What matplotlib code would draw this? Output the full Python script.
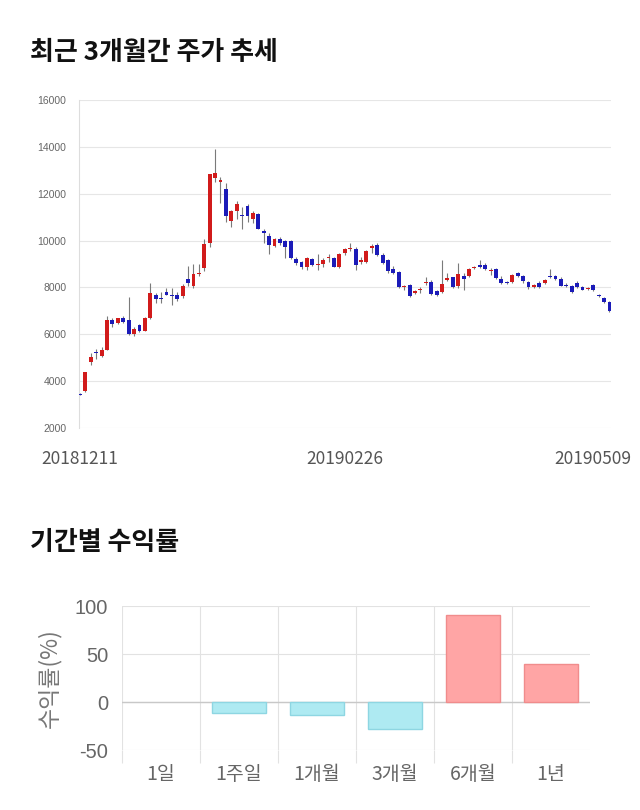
import numpy as np
import matplotlib.pyplot as plt
from matplotlib.transforms import ScaledTranslation

plt.rcParams['font.family'] = ['Noto Sans CJK KR', 'DejaVu Sans']
plt.rcParams['axes.unicode_minus'] = False

# daily candles, 2018-12-11 .. 2019-05-09
opens = [3470, 3560, 4810, 5240, 5060, 5330, 6610, 6480, 6700, 6600,
         6010, 6380, 6160, 6680, 7660, 7520, 7800, 7650, 7660, 7620,
         8370, 8040, 8580, 8830, 9900, 12680, 12520, 12220, 10840, 11250,
         11080, 11480, 10940, 11140, 10410, 10210, 9750, 10070, 10000, 10000,
         9230, 9080, 8860, 9210, 8950, 8980, 9250, 9270, 8880, 9450,
         9640, 9660, 9100, 9100, 9690, 9830, 9400, 9150, 8790, 8650,
         8010, 8100, 7760, 7900, 8180, 8250, 7840, 7790, 8320, 8440,
         8040, 8500, 8480, 8830, 8970, 8970, 8720, 8780, 8370, 8230,
         8230, 8610, 8470, 8230, 8010, 8210, 8190, 8500, 8470, 8370,
         8110, 8040, 8190, 8030, 7940, 8090, 7660, 7530, 7390]
highs = [3500, 4400, 5180, 5390, 5450, 6760, 6680, 6700, 6760, 7600,
         6300, 6420, 6720, 8180, 7760, 7800, 7980, 7960, 7820, 8140,
         8900, 9010, 9010, 10070, 12850, 13910, 12700, 12450, 11300, 11680,
         11420, 11540, 11280, 11180, 10480, 10340, 10120, 10150, 10030, 10040,
         9280, 9120, 9300, 9260, 9440, 9250, 9420, 9290, 9460, 9680,
         9880, 9740, 9320, 9600, 9850, 9880, 9460, 9200, 8900, 8680,
         8110, 8140, 7870, 8010, 8440, 8300, 7900, 9180, 8610, 8460,
         9030, 8610, 8850, 8930, 9150, 9040, 8830, 8830, 8500, 8280,
         8570, 8660, 8510, 8260, 8130, 8260, 8350, 8780, 8540, 8430,
         8190, 8090, 8260, 8070, 8000, 8130, 7720, 7590, 7430]
lows = [3400, 3540, 4680, 4960, 5040, 5320, 6320, 6450, 6480, 5980,
        5940, 6100, 6120, 6650, 7350, 7350, 7660, 7260, 7440, 7550,
        8040, 7970, 8470, 8720, 9720, 12520, 11600, 10790, 10600, 10900,
        10510, 10780, 10770, 10480, 9900, 9420, 9710, 9830, 9260, 9220,
        8960, 8800, 8750, 8900, 8760, 8890, 9080, 8860, 8850, 9400,
        9550, 8750, 9000, 9050, 9470, 9340, 9020, 8600, 8580, 7970,
        7900, 7580, 7730, 7780, 8120, 7690, 7650, 7750, 8260, 7970,
        7970, 7900, 8430, 8780, 8840, 8750, 8530, 8360, 8150, 8140,
        8200, 8440, 8210, 7930, 7990, 7970, 8140, 8400, 8300, 8040,
        8010, 7760, 7970, 7870, 7900, 7830, 7590, 7320, 6950]
closes = [3420, 4370, 5040, 5180, 5350, 6620, 6460, 6680, 6530, 6010,
          6240, 6160, 6680, 7760, 7500, 7500, 7690, 7620, 7500, 8040,
          8190, 8590, 8620, 9870, 12840, 12880, 12570, 11070, 11260, 11540,
          11060, 11040, 11180, 10500, 10330, 9830, 10070, 9900, 9730, 9260,
          9040, 8860, 9250, 8940, 8970, 9170, 9260, 8880, 9420, 9640,
          9680, 8960, 9170, 9570, 9770, 9400, 9060, 8680, 8610, 8010,
          8080, 7640, 7860, 7900, 8240, 7730, 7690, 8140, 8420, 8010,
          8580, 8350, 8790, 8870, 8870, 8780, 8750, 8400, 8210, 8190,
          8540, 8470, 8260, 8010, 8100, 8010, 8310, 8440, 8360, 8070,
          8040, 7820, 8010, 7900, 7990, 7870, 7620, 7390, 6980]
date_ticks = [0, 49, 98]
date_labels = ['20181211', '20190226', '20190509']

periods = ['1일', '1주일', '1개월', '3개월', '6개월', '1년']
returns = [0, -11.6, -13.7, -28.0, 91.1, 39.6]

fig = plt.figure(figsize=(6.4, 8.1), dpi=100)

fig.text(30 / 640, 1 - 52 / 810, '최근 3개월간 주가 추세', fontsize=18.7,
         fontweight='bold', va='center', ha='left', color='#111111')
fig.text(30 / 640, 1 - 543 / 810, '기간별 수익률', fontsize=18.7,
         fontweight='bold', va='center', ha='left', color='#111111')

# candlestick chart
ax = fig.add_axes([79 / 640, 1 - 428 / 810, 532 / 640, 328 / 810])
o = np.array(opens)
h = np.array(highs)
l = np.array(lows)
c = np.array(closes)
x = np.arange(len(o))
up = c >= o
cols = np.where(up, '#d11b1b', '#1b1bb8')
ax.vlines(x, l, h, color='#7a7a7a', linewidth=0.8, zorder=2)
body = np.maximum(np.abs(c - o), 45)
ax.bar(x, body, bottom=np.minimum(o, c), width=0.72, color=cols,
       linewidth=0, zorder=3)

ax.set_xlim(-0.19, 98.28)
ax.set_ylim(2000, 16000)
ax.set_yticks(np.arange(2000, 16001, 2000))
ax.tick_params(axis='y', length=0, labelsize=7.5, labelcolor='#666666', pad=9)
for t in ax.get_yticklabels():
    t.set_family(['Liberation Sans', 'DejaVu Sans'])
ax.set_xticks(date_ticks)
ax.set_xticklabels(date_labels)
ax.tick_params(axis='x', length=0, labelsize=12.5, labelcolor='#555555', pad=16)
last = ax.xaxis.get_ticklabels()[-1]
last.set_transform(last.get_transform()
                   + ScaledTranslation(-17 / 100, 0, fig.dpi_scale_trans))
ax.grid(axis='y', color='#e6e6e6', linewidth=0.8)
ax.set_axisbelow(True)
for s in ['top', 'right', 'bottom']:
    ax.spines[s].set_visible(False)
ax.spines['left'].set_color('#dddddd')

# returns bar chart
ax2 = fig.add_axes([122 / 640, 1 - 750 / 810, 468 / 640, 144 / 810])
bar_cols = ['#ffa5a5' if v >= 0 else '#aeeaf2' for v in returns]
edge_cols = ['#f08c8c' if v >= 0 else '#8ed6e2' for v in returns]
edge_w = [1 if v != 0 else 0 for v in returns]
ax2.bar(np.arange(len(periods)), returns, width=0.69, color=bar_cols,
        edgecolor=edge_cols, linewidth=edge_w, zorder=3)
ax2.set_xlim(-0.5, 5.5)
ax2.set_ylim(-50, 100)
ax2.set_yticks([-50, 0, 50, 100])
ax2.set_xticks(np.arange(len(periods)))
ax2.set_xticklabels(periods)
ax2.set_xticks(np.arange(-0.5, 5.0, 1.0), minor=True)
ax2.tick_params(axis='x', which='major', length=0, labelsize=14,
                labelcolor='#666666', pad=10)
ax2.tick_params(axis='x', which='minor', length=9, color='#e2e2e2', width=0.8)
ax2.tick_params(axis='y', length=0, labelsize=14.5, labelcolor='#666666', pad=10)
for t in ax2.get_yticklabels():
    t.set_family(['Liberation Sans', 'DejaVu Sans'])
ax2.grid(axis='y', color='#e2e2e2', linewidth=0.8)
ax2.grid(axis='x', which='minor', color='#e2e2e2', linewidth=0.8)
ax2.axhline(0, color='#c8c8c8', linewidth=1, zorder=2)
ax2.set_axisbelow(True)
for s in ['top', 'right', 'bottom', 'left']:
    ax2.spines[s].set_visible(False)
ax2.set_ylabel('수익률(%)', fontsize=16.5, color='#777777', labelpad=10)

fig.savefig('out.png', dpi=100)
